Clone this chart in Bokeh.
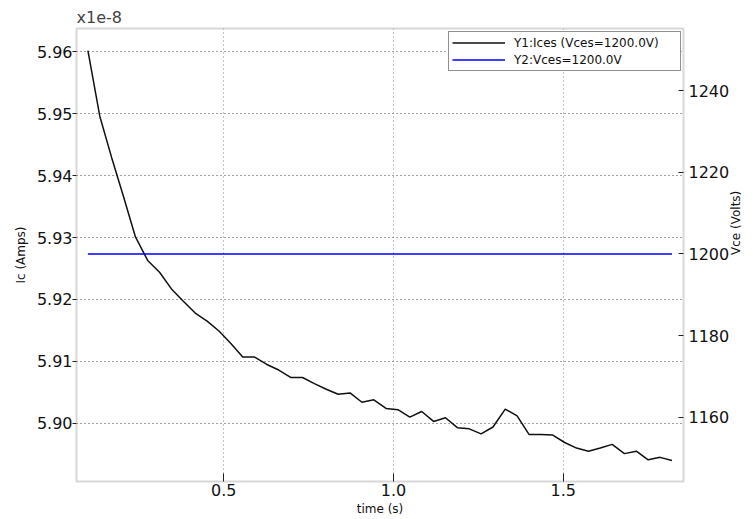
import math
from bokeh.plotting import figure
from bokeh.models import (LinearAxis, Range1d, FixedTicker, NumeralTickFormatter,
                          Legend, LegendItem)
from bokeh.embed import file_html
from bokeh.resources import INLINE

# ---- data ----
time_s = [0.100, 0.135, 0.170, 0.205, 0.240, 0.276, 0.311, 0.346, 0.381, 0.416,
          0.451, 0.486, 0.521, 0.556, 0.591, 0.627, 0.662, 0.697, 0.732, 0.767,
          0.802, 0.837, 0.872, 0.907, 0.942, 0.978, 1.013, 1.048, 1.083, 1.118,
          1.153, 1.188, 1.223, 1.258, 1.293, 1.329, 1.364, 1.399, 1.434, 1.469,
          1.504, 1.539, 1.574, 1.609, 1.644, 1.680, 1.715, 1.750, 1.785, 1.820]

# Ices in units of 1e-8 A
ices_x1e8 = [5.9602, 5.9496, 5.9429, 5.9366, 5.9301, 5.9263, 5.9244, 5.9217, 5.9197, 5.9178,
             5.9165, 5.9149, 5.9129, 5.9107, 5.9107, 5.9095, 5.9086, 5.9074, 5.9074, 5.9064,
             5.9055, 5.9047, 5.9049, 5.9034, 5.9038, 5.9024, 5.9022, 5.9010, 5.9019, 5.9003,
             5.9009, 5.8993, 5.8991, 5.8983, 5.8994, 5.9023, 5.9012, 5.8982, 5.8982, 5.8981,
             5.8969, 5.8960, 5.8955, 5.8960, 5.8966, 5.8951, 5.8955, 5.8941, 5.8945, 5.8940]

vce_volts = [1200.0, 1200.0, 1200.0, 1200.0, 1200.0, 1200.0, 1200.0, 1200.0, 1200.0, 1200.0,
             1200.0, 1200.0, 1200.0, 1200.0, 1200.0, 1200.0, 1200.0, 1200.0, 1200.0, 1200.0,
             1200.0, 1200.0, 1200.0, 1200.0, 1200.0, 1200.0, 1200.0, 1200.0, 1200.0, 1200.0,
             1200.0, 1200.0, 1200.0, 1200.0, 1200.0, 1200.0, 1200.0, 1200.0, 1200.0, 1200.0,
             1200.0, 1200.0, 1200.0, 1200.0, 1200.0, 1200.0, 1200.0, 1200.0, 1200.0, 1200.0]

x_ticks = [0.5, 1.0, 1.5]
ic_ticks = [5.90, 5.91, 5.92, 5.93, 5.94, 5.95, 5.96]
vce_ticks = [1160, 1180, 1200, 1220, 1240]

label_ices = "Y1:Ices (Vces=1200.0V)"
label_vce = "Y2:Vces=1200.0V"

FONT = "DejaVu Sans"

p = figure(width=753, height=519, output_backend="svg", toolbar_location=None,
           x_range=Range1d(0.0664, 1.854), y_range=Range1d(5.8906, 5.96376),
           min_border_left=76, min_border_right=66, min_border_top=28,
           min_border_bottom=38, background_fill_color="white",
           border_fill_color="white")
p.extra_y_ranges = {"vce": Range1d(1144.34, 1255.17)}

# title used as the axis multiplier "x1e-8"
p.title.text = "x1e-8"
p.title.text_font = FONT
p.title.text_font_size = "16px"
p.title.text_font_style = "normal"
p.title.align = "left"
p.title.offset = 0
p.title.standoff = 4

p.outline_line_color = "#d8d8d8"
p.outline_line_width = 2

# x axis
xa = p.xaxis[0]
xa.ticker = FixedTicker(ticks=x_ticks)
xa.formatter = NumeralTickFormatter(format="0.0")
xa.axis_label = "time (s)"

# left axis
ya = p.yaxis[0]
ya.ticker = FixedTicker(ticks=ic_ticks)
ya.formatter = NumeralTickFormatter(format="0.00")
ya.axis_label = "Ic (Amps)"

# right axis
ra = LinearAxis(y_range_name="vce", axis_label="Vce (Volts)",
                ticker=FixedTicker(ticks=vce_ticks))
p.add_layout(ra, "right")

for ax in (xa, ya, ra):
    ax.axis_line_color = None
    ax.major_tick_line_color = "#222222"
    ax.minor_tick_line_color = None
    ax.major_label_text_font = FONT
    ax.major_label_text_font_size = "16px"
    ax.major_label_text_color = "#111111"
    ax.axis_label_text_font = FONT
    ax.axis_label_text_font_size = "12px"
    ax.axis_label_text_font_style = "normal"
    ax.axis_label_text_color = "#111111"

xa.major_tick_in = 8
xa.major_tick_out = 0
xa.major_label_standoff = 2
xa.axis_label_standoff = 3

ya.major_tick_in = 0
ya.major_tick_out = 4
ya.major_label_standoff = 0
ya.axis_label_standoff = 6

ra.major_tick_in = 5
ra.major_tick_out = 0
ra.major_label_standoff = 5
ra.axis_label_standoff = 4
ra.axis_label_orientation = math.pi / 2

p.xgrid.grid_line_color = "#888888"
p.xgrid.grid_line_dash = "1 3"
p.xgrid.grid_line_width = 1
p.ygrid.grid_line_color = "#444444"
p.ygrid.grid_line_dash = "1 3"
p.ygrid.grid_line_width = 1

r1 = p.line(time_s, ices_x1e8, line_color="#111111", line_width=1.5)
r2 = p.line(time_s, vce_volts, line_color="#0000ff", line_width=1.5, y_range_name="vce")

legend = Legend(items=[LegendItem(label=label_ices, renderers=[r1]),
                       LegendItem(label=label_vce, renderers=[r2])],
                location=(372, 410), padding=3, spacing=2, margin=0,
                glyph_width=53, glyph_height=15, label_height=15,
                label_standoff=9, label_width=163,
                label_text_font=FONT, label_text_font_size="12px",
                label_text_color="#111111",
                border_line_color="#222222", border_line_width=1,
                background_fill_color="white", background_fill_alpha=1)
p.add_layout(legend)

open("out.html", "w").write(file_html(p, INLINE))
